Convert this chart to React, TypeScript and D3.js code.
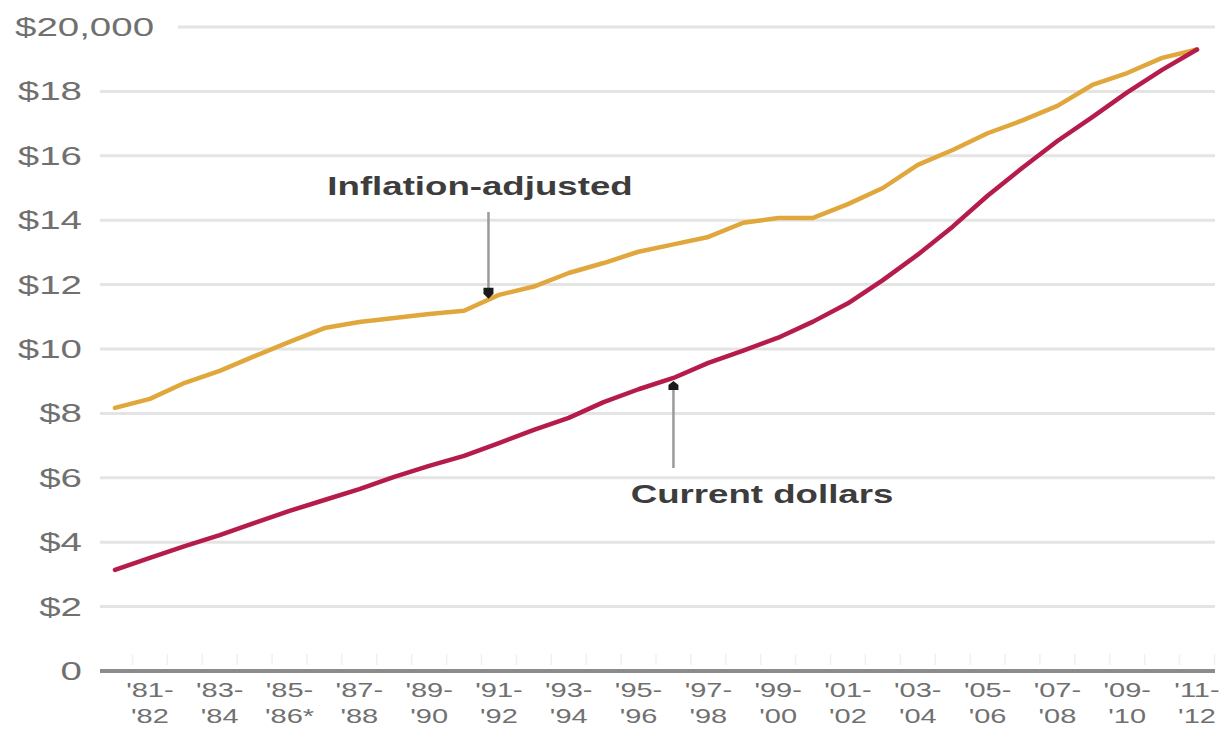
import React from "react";
import * as d3 from "d3";

// Academic years plotted, one point each
const seasons: string[] = [
  "1980-81", "1981-82", "1982-83", "1983-84", "1984-85", "1985-86", "1986-87", "1987-88",
  "1988-89", "1989-90", "1990-91", "1991-92", "1992-93", "1993-94", "1994-95", "1995-96",
  "1996-97", "1997-98", "1998-99", "1999-00", "2000-01", "2001-02", "2002-03", "2003-04",
  "2004-05", "2005-06", "2006-07", "2007-08", "2008-09", "2009-10", "2010-11", "2011-12",
];

// Average cost, in dollars
const inflationAdjusted: number[] = [
  8170, 8450, 8950, 9320, 9780, 10220, 10650, 10840,
  10960, 11090, 11190, 11680, 11940, 12360, 12670, 13020,
  13250, 13480, 13920, 14070, 14070, 14500, 15000, 15720,
  16180, 16700, 17100, 17550, 18200, 18570, 19040, 19300,
];

const currentDollars: number[] = [
  3140, 3510, 3880, 4220, 4600, 4970, 5310, 5650,
  6030, 6370, 6680, 7080, 7490, 7860, 8350, 8750,
  9100, 9570, 9950, 10350, 10850, 11420, 12140, 12930,
  13800, 14760, 15630, 16460, 17200, 17970, 18670, 19300,
];

// Y axis ticks and their labels
const yTickValues: number[] = [0, 2000, 4000, 6000, 8000, 10000, 12000, 14000, 16000, 18000, 20000];
const yTickLabels: string[] = ["0", "$2", "$4", "$6", "$8", "$10", "$12", "$14", "$16", "$18", "$20,000"];

// X axis labels: shown for every other season, two lines each
const xLabelIndex: number[] = [1, 3, 5, 7, 9, 11, 13, 15, 17, 19, 21, 23, 25, 27, 29, 31];
const xLabelTop: string[] = ["'81-", "'83-", "'85-", "'87-", "'89-", "'91-", "'93-", "'95-", "'97-", "'99-", "'01-", "'03-", "'05-", "'07-", "'09-", "'11-"];
const xLabelBottom: string[] = ["'82", "'84", "'86*", "'88", "'90", "'92", "'94", "'96", "'98", "'00", "'02", "'04", "'06", "'08", "'10", "'12"];

// Series annotations: anchor is a fractional season index on the line
const inflationNote = { text: "Inflation-adjusted", anchor: 10.7 };
const currentNote = { text: "Current dollars", anchor: 16 };

const W = 1227;
const H = 735;
const plotLeft = 100;
const plotRight = 1215;

const INFL_COLOR = "#e0a83c";
const CUR_COLOR = "#b51c4c";
const GRID = "#e4e4e4";
const LABEL = "#707070";
const NOTE = "#3d3d3d";

function interp(values: number[], t: number): number {
  const i = Math.floor(t);
  const f = t - i;
  if (i >= values.length - 1) return values[values.length - 1];
  return values[i] + (values[i + 1] - values[i]) * f;
}

export default function App() {
  const x = d3.scaleLinear().domain([0, seasons.length - 1]).range([115, 1197]);
  const y = d3.scaleLinear().domain([0, 20000]).range([671, 27]);

  const line = d3
    .line<number>()
    .x((_, i) => x(i))
    .y((d) => y(d))
    .curve(d3.curveLinear);

  const regFont = "'Liberation Sans', Arial, sans-serif";

  const inflX = x(inflationNote.anchor);
  const inflY = y(interp(inflationAdjusted, inflationNote.anchor));
  const curX = x(currentNote.anchor);
  const curY = y(interp(currentDollars, currentNote.anchor));

  const minorTicks = d3.range(-0.5, seasons.length, 1).map((t) => x(t)).filter((v) => v >= plotLeft && v <= plotRight);

  return (
    <svg
      width={W}
      height={H}
      viewBox={`0 0 ${W} ${H}`}
      style={{ position: "absolute", left: 0, top: 0, background: "#fff", display: "block" }}
    >
      <rect x={0} y={0} width={W} height={H} fill="#fff" />

      {/* horizontal gridlines */}
      {yTickValues.map((v, i) =>
        v === 0 ? null : (
          <line
            key={`g${v}`}
            x1={i === yTickValues.length - 1 ? 178 : plotLeft}
            x2={plotRight}
            y1={y(v)}
            y2={y(v)}
            stroke={GRID}
            strokeWidth={3}
          />
        )
      )}

      {/* y tick labels */}
      {yTickValues.map((v, i) => {
        const top = i === yTickValues.length - 1;
        return (
          <text
            key={`yl${v}`}
            transform={`translate(${top ? 15 : 82},${y(v) + 9}) scale(1.48,1)`}
            textAnchor={top ? "start" : "end"}
            fontFamily={regFont}
            fontSize={26}
            fill={LABEL}
          >
            {yTickLabels[i]}
          </text>
        );
      })}

      {/* faint season ticks above the baseline */}
      {minorTicks.map((tx, i) => (
        <line key={`mt${i}`} x1={tx} x2={tx} y1={654} y2={665} stroke="#f0f0f0" strokeWidth={1.5} />
      ))}

      {/* baseline */}
      <line x1={plotLeft} x2={plotRight} y1={y(0)} y2={y(0)} stroke="#8c8c8c" strokeWidth={4} />

      {/* x labels */}
      {xLabelIndex.map((idx, i) => (
        <g key={`xl${idx}`}>
          <text
            transform={`translate(${x(idx)},697) scale(1.45,1)`}
            textAnchor="middle"
            fontFamily={regFont}
            fontSize={20}
            fill={LABEL}
          >
            {xLabelTop[i]}
          </text>
          <text
            transform={`translate(${x(idx)},723) scale(1.45,1)`}
            textAnchor="middle"
            fontFamily={regFont}
            fontSize={20}
            fill={LABEL}
          >
            {xLabelBottom[i]}
          </text>
        </g>
      ))}

      {/* series */}
      <path d={line(inflationAdjusted) || ""} fill="none" stroke={INFL_COLOR} strokeWidth={4.5} strokeLinejoin="round" strokeLinecap="round" />
      <path d={line(currentDollars) || ""} fill="none" stroke={CUR_COLOR} strokeWidth={4.5} strokeLinejoin="round" strokeLinecap="round" />

      {/* inflation-adjusted annotation */}
      <text
        transform={`translate(480,195) scale(1.41,1)`}
        textAnchor="middle"
        fontFamily={regFont}
        fontWeight="bold"
        fontSize={26}
        fill={NOTE}
      >
        {inflationNote.text}
      </text>
      <line x1={inflX} x2={inflX} y1={212} y2={inflY - 10} stroke="#9a9a9a" strokeWidth={2.5} />
      <path
        d={`M${inflX - 5},${inflY - 12} L${inflX + 5},${inflY - 12} L${inflX + 5},${inflY - 6} L${inflX},${inflY - 1} L${inflX - 5},${inflY - 6} Z`}
        fill="#1a1a1a"
      />

      {/* current dollars annotation */}
      <text
        transform={`translate(762,503) scale(1.41,1)`}
        textAnchor="middle"
        fontFamily={regFont}
        fontWeight="bold"
        fontSize={26}
        fill={NOTE}
      >
        {currentNote.text}
      </text>
      <line x1={curX} x2={curX} y1={curY + 10} y2={468} stroke="#9a9a9a" strokeWidth={2.5} />
      <path
        d={`M${curX - 5},${curY + 12} L${curX + 5},${curY + 12} L${curX + 5},${curY + 7} L${curX},${curY + 3} L${curX - 5},${curY + 7} Z`}
        fill="#1a1a1a"
      />
    </svg>
  );
}
